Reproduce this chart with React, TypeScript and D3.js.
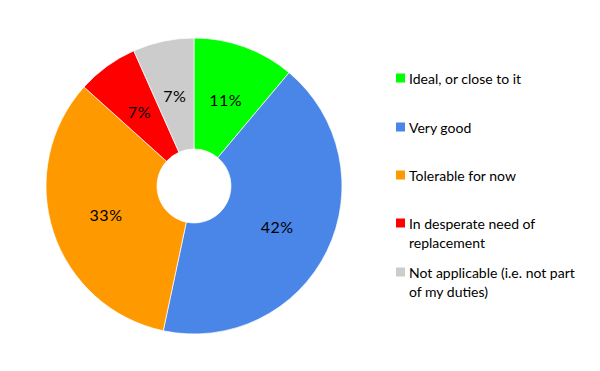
import { useEffect, useRef } from "react";
import * as d3 from "d3";

const categories = [
  "Ideal, or close to it",
  "Very good",
  "Tolerable for now",
  "In desperate need of replacement",
  "Not applicable (i.e. not part of my duties)",
];
const counts = [5, 19, 15, 3, 3];
const colors = ["#00ff00", "#4a86e8", "#ff9900", "#ff0000", "#cccccc"];
// legend text broken into lines as drawn
const legendLines = [
  ["Ideal, or close to it"],
  ["Very good"],
  ["Tolerable for now"],
  ["In desperate need of", "replacement"],
  ["Not applicable (i.e. not part", "of my duties)"],
];
const legendY = [78, 127, 175, 223, 272];

const W = 600;
const H = 371;
const CX = 194;
const CY = 186;
const R_OUT = 148;
const R_IN = 37;
const FONT = "Lato, 'Open Sans', sans-serif";

export default function App() {
  const svgRef = useRef<SVGSVGElement>(null);

  useEffect(() => {
    const svg = d3.select(svgRef.current);
    svg.selectAll("*").remove();
    svg.attr("width", W).attr("height", H);

    svg.append("rect").attr("width", W).attr("height", H).attr("fill", "#ffffff");

    const total = d3.sum(counts);
    const pie = d3.pie<number>().sort(null).value((d) => d);
    const arcs = pie(counts);
    const arcGen = d3.arc<d3.PieArcDatum<number>>().innerRadius(R_IN).outerRadius(R_OUT);

    const g = svg.append("g").attr("transform", `translate(${CX},${CY})`);

    g.selectAll("path")
      .data(arcs)
      .enter()
      .append("path")
      .attr("d", arcGen)
      .attr("fill", (_, i) => colors[i])
      .attr("stroke", "#ffffff")
      .attr("stroke-width", 0.7);

    g.selectAll("text")
      .data(arcs)
      .enter()
      .append("text")
      .attr("transform", (d) => `translate(${arcGen.centroid(d)})`)
      .attr("text-anchor", "middle")
      .attr("dominant-baseline", "central")
      .attr("font-family", FONT)
      .attr("font-size", "16px")
      .attr("letter-spacing", "0.5px")
      .attr("fill", "#000")
      .text((d) => `${Math.round((d.data / total) * 100)}%`);

    // Legend
    const leg = svg.append("g");
    categories.forEach((_, i) => {
      const y = legendY[i];
      leg.append("rect")
        .attr("x", 396)
        .attr("y", y - 4.5)
        .attr("width", 9)
        .attr("height", 9)
        .attr("fill", colors[i]);
      legendLines[i].forEach((line, j) => {
        leg.append("text")
          .attr("x", 409)
          .attr("y", y + j * 19)
          .attr("dominant-baseline", "central")
          .attr("font-family", FONT)
          .attr("font-size", "14px")
          .attr("fill", "#000")
          .text(line);
      });
    });
  }, []);

  return <svg ref={svgRef} style={{ position: "absolute", left: 0, top: 0 }} />;
}
